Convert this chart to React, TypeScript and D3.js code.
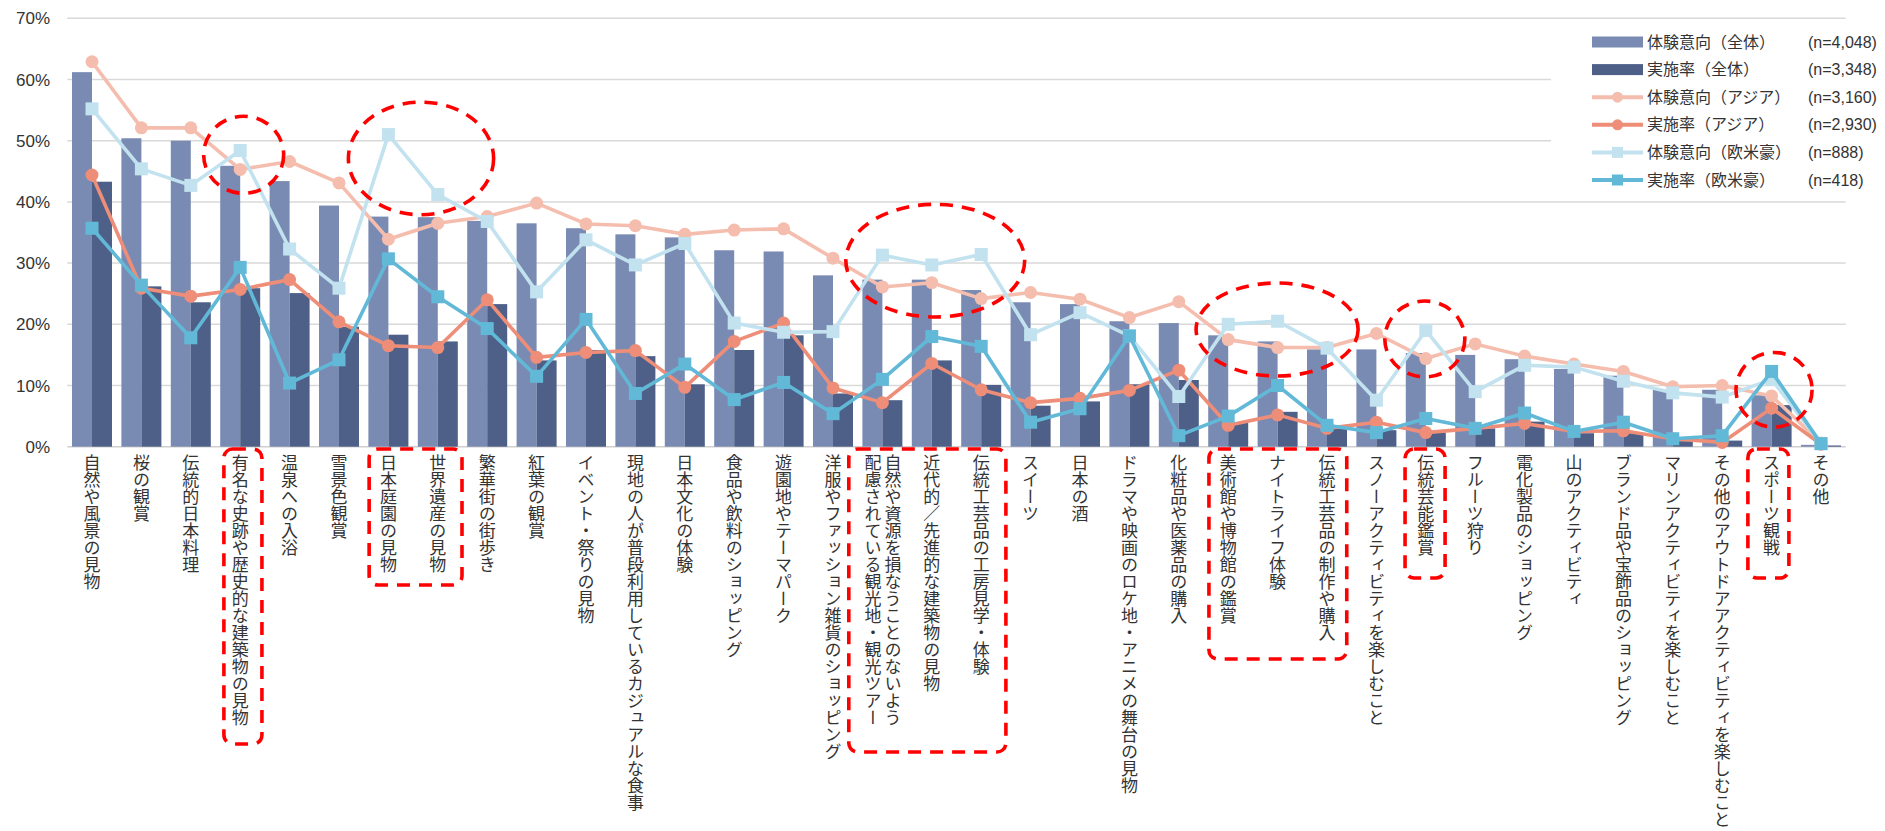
import React from 'react';
import * as d3 from 'd3';

const categories = [
  '自然や風景の見物',
  '桜の観賞',
  '伝統的日本料理',
  '有名な史跡や歴史的な建築物の見物',
  '温泉への入浴',
  '雪景色観賞',
  '日本庭園の見物',
  '世界遺産の見物',
  '繁華街の街歩き',
  '紅葉の観賞',
  'イベント・祭りの見物',
  '現地の人が普段利用しているカジュアルな食事',
  '日本文化の体験',
  '食品や飲料のショッピング',
  '遊園地やテーマパーク',
  '洋服やファッション雑貨のショッピング',
  '自然や資源を損なうことのないよう\n配慮されている観光地・観光ツアー',
  '近代的／先進的な建築物の見物',
  '伝統工芸品の工房見学・体験',
  'スイーツ',
  '日本の酒',
  'ドラマや映画のロケ地・アニメの舞台の見物',
  '化粧品や医薬品の購入',
  '美術館や博物館の鑑賞',
  'ナイトライフ体験',
  '伝統工芸品の制作や購入',
  'スノーアクティビティを楽しむこと',
  '伝統芸能鑑賞',
  'フルーツ狩り',
  '電化製品のショッピング',
  '山のアクティビティ',
  'ブランド品や宝飾品のショッピング',
  'マリンアクティビティを楽しむこと',
  'その他のアウトドアアクティビティを楽しむこと',
  'スポーツ観戦',
  'その他',
];

// 体験意向（全体） bars
const intentAll = [61.2, 50.4, 50.0, 45.9, 43.4, 39.4, 37.6, 37.5, 36.9, 36.5, 35.7, 34.7, 34.2, 32.1, 31.9, 28.0, 27.3, 27.3, 25.6, 23.6, 23.3, 20.5, 20.2, 18.2, 17.2, 15.9, 15.9, 15.3, 15.0, 14.3, 12.7, 11.6, 9.3, 9.3, 8.4, 0.3];
// 実施率（全体） bars
const implAll = [43.3, 26.2, 23.6, 25.9, 25.1, 19.6, 18.3, 17.2, 23.3, 14.1, 15.8, 14.8, 10.2, 15.8, 18.2, 8.7, 7.6, 14.1, 10.1, 6.7, 7.4, 10.2, 10.9, 3.9, 5.7, 3.0, 2.7, 2.3, 3.0, 4.1, 2.2, 2.2, 0.9, 1.0, 6.8, 0.2];
// 体験意向（アジア）
const intentAsia = [62.9, 52.1, 52.1, 45.3, 46.6, 43.1, 33.9, 36.5, 37.6, 39.8, 36.4, 36.1, 34.7, 35.4, 35.6, 30.8, 26.1, 26.8, 24.2, 25.2, 24.1, 21.1, 23.7, 17.5, 16.2, 16.2, 18.5, 14.4, 16.8, 14.8, 13.5, 12.3, 9.8, 10.0, 8.3, 0.6];
// 実施率（アジア）
const implAsia = [44.4, 25.9, 24.6, 25.7, 27.3, 20.4, 16.5, 16.2, 24.0, 14.6, 15.4, 15.7, 9.7, 17.2, 20.2, 9.6, 7.2, 13.6, 9.3, 7.2, 7.9, 9.2, 12.5, 3.5, 5.2, 3.0, 4.0, 2.3, 3.0, 3.8, 2.5, 2.6, 1.3, 0.7, 6.3, 0.4];
// 体験意向（欧米豪）
const intentEU = [55.2, 45.4, 42.7, 48.4, 32.3, 25.9, 51.0, 41.2, 36.8, 25.3, 33.8, 29.7, 33.2, 20.2, 18.7, 18.8, 31.3, 29.7, 31.4, 18.3, 21.9, 18.1, 8.2, 20.0, 20.5, 16.1, 7.6, 19.0, 9.0, 13.3, 13.0, 10.7, 8.8, 8.1, 11.0, 0.5];
// 実施率（欧米豪）
const implEU = [35.7, 26.4, 17.8, 29.3, 10.4, 14.2, 30.7, 24.5, 19.3, 11.5, 20.8, 8.7, 13.5, 7.7, 10.5, 5.4, 11.0, 18.0, 16.4, 4.0, 6.2, 18.1, 1.8, 5.0, 10.0, 3.5, 2.3, 4.6, 3.0, 5.5, 2.5, 4.0, 1.3, 1.8, 12.3, 0.5];

const yTicks = [0, 10, 20, 30, 40, 50, 60, 70];

const legendLabels = ['体験意向（全体）', '実施率（全体）', '体験意向（アジア）', '実施率（アジア）', '体験意向（欧米豪）', '実施率（欧米豪）'];
const legendN = ['(n=4,048)', '(n=3,348)', '(n=3,160)', '(n=2,930)', '(n=888)', '(n=418)'];

// annotation config (category index units / value units)
const ellipseNotes = [
  { c: 3.07, v: 47.7, rc: 0.81, rv: 6.3 },
  { c: 6.66, v: 47.1, rc: 1.47, rv: 9.2 },
  { c: 17.07, v: 30.4, rc: 1.81, rv: 9.2 },
  { c: 23.99, v: 19.15, rc: 1.64, rv: 7.6 },
  { c: 26.98, v: 17.6, rc: 0.81, rv: 6.2 },
  { c: 34.05, v: 9.3, rc: 0.77, rv: 6.1 },
];
const boxNotes = [
  { c0: 2.67, c1: 3.44, chars: 16, pad: 18 },
  { c0: 5.61, c1: 7.49, chars: 7, pad: 12 },
  { c0: 15.32, c1: 18.5, chars: 16, pad: 26 },
  { c0: 22.61, c1: 25.4, chars: 11, pad: 18 },
  { c0: 26.58, c1: 27.39, chars: 6, pad: 22 },
  { c0: 33.52, c1: 34.35, chars: 6, pad: 22 },
];

const W = 1885;
const H = 831;
const JP = '"Noto Sans CJK JP", "Noto Sans", sans-serif';
const LAT = '"Liberation Sans", Arial, sans-serif';

const C_BAR1 = '#7a8bb3';
const C_BAR2 = '#4e6088';
const C_ASIA1 = '#f5bdad';
const C_ASIA2 = '#ee8d78';
const C_EU1 = '#c1e2ee';
const C_EU2 = '#62b9d7';
const RED = '#ff0000';

export default function App() {
  const left = 67.3;
  const right = 1845.7;
  const x = d3.scaleBand<string>().domain(categories).range([left, right]).paddingInner(0).paddingOuter(0);
  const step = x.step();
  const sub = d3.scaleBand<string>().domain(['all', 'impl']).range([0, step]).paddingInner(0).paddingOuter(0.235);
  const y = d3.scaleLinear().domain([0, 70]).range([446.7, 18.3]);
  const cxAt = (i: number) => (x(categories[i]) as number) + step / 2;
  const cxFrac = (c: number) => left + step * (c + 0.5);

  const lineGen = d3
    .line<number>()
    .x((_, i) => cxAt(i))
    .y((d) => y(d));

  const lineSeries = [
    { data: intentAsia, color: C_ASIA1, marker: 'circle' },
    { data: implAsia, color: C_ASIA2, marker: 'circle' },
    { data: intentEU, color: C_EU1, marker: 'square' },
    { data: implEU, color: C_EU2, marker: 'square' },
  ];

  const labelTop = 454;
  const fs = 17;
  const legendX0 = 1592;
  const legendX1 = 1643;
  const legendY0 = 42;
  const legendDY = 27.6;
  const legendSeries = [
    { type: 'bar', color: C_BAR1 },
    { type: 'bar', color: C_BAR2 },
    { type: 'circle', color: C_ASIA1 },
    { type: 'circle', color: C_ASIA2 },
    { type: 'square', color: C_EU1 },
    { type: 'square', color: C_EU2 },
  ];

  return (
    <svg
      width={W}
      height={H}
      viewBox={`0 0 ${W} ${H}`}
      style={{ position: 'absolute', left: 0, top: 0, background: '#fff' }}
    >
      <rect x={0} y={0} width={W} height={H} fill="#fff" />
      {/* gridlines */}
      {yTicks.map((t) => (
        <line
          key={'g' + t}
          x1={left}
          x2={right}
          y1={y(t)}
          y2={y(t)}
          stroke={t === 0 ? '#cfcfcf' : '#d9d9d9'}
          strokeWidth={1.5}
        />
      ))}
      {/* y tick labels */}
      {yTicks.map((t) => (
        <text
          key={'t' + t}
          x={50}
          y={y(t)}
          dy="0.36em"
          textAnchor="end"
          fontFamily={LAT}
          fontSize={17}
          fill="#333"
        >
          {d3.format('.0%')(t / 100)}
        </text>
      ))}
      {/* legend background */}
      <rect x={1551} y={28} width={W - 1551} height={167} fill="#fff" />
      {/* bars */}
      {categories.map((c, i) => (
        <g key={'b' + i}>
          <rect
            x={(x(c) as number) + (sub('all') as number)}
            y={y(intentAll[i])}
            width={sub.bandwidth()}
            height={y(0) - y(intentAll[i])}
            fill={C_BAR1}
          />
          <rect
            x={(x(c) as number) + (sub('impl') as number)}
            y={y(implAll[i])}
            width={sub.bandwidth()}
            height={y(0) - y(implAll[i])}
            fill={C_BAR2}
          />
        </g>
      ))}
      {/* lines */}
      {lineSeries.map((s, si) => (
        <g key={'l' + si}>
          <path d={lineGen(s.data) as string} fill="none" stroke={s.color} strokeWidth={3.6} strokeLinejoin="round" />
          {s.data.map((v, i) =>
            s.marker === 'circle' ? (
              <circle key={i} cx={cxAt(i)} cy={y(v)} r={6.5} fill={s.color} />
            ) : (
              <rect key={i} x={cxAt(i) - 6.5} y={y(v) - 6.5} width={13} height={13} fill={s.color} />
            )
          )}
        </g>
      ))}
      {/* category labels (vertical) */}
      {categories.map((c, i) => {
        const cols = c.split('\n');
        const n = cols.length;
        return cols.map((col, k) => (
          <text
            key={'c' + i + '-' + k}
            x={cxAt(i) + ((n - 1) / 2 - k) * 20 + (n > 1 ? 0.6 : 0)}
            y={labelTop}
            fontFamily={JP}
            fontSize={fs}
            fill="#333"
            style={{ writingMode: 'vertical-rl' as any }}
          >
            {col}
          </text>
        ));
      })}
      {/* annotations: ellipses */}
      {ellipseNotes.map((e, i) => (
        <ellipse
          key={'e' + i}
          cx={cxFrac(e.c)}
          cy={y(e.v)}
          rx={e.rc * step}
          ry={y(0) - y(e.rv)}
          fill="none"
          stroke={RED}
          strokeWidth={3.6}
          strokeDasharray="13 9"
        />
      ))}
      {/* annotations: rounded boxes around labels */}
      {boxNotes.map((b, i) => {
        const x0 = cxFrac(b.c0);
        const x1 = cxFrac(b.c1);
        const top = 449;
        const bottom = labelTop + b.chars * fs + b.pad;
        return (
          <rect
            key={'bx' + i}
            x={x0}
            y={top}
            width={x1 - x0}
            height={bottom - top}
            rx={9}
            ry={9}
            fill="none"
            stroke={RED}
            strokeWidth={3.6}
            strokeDasharray="13 9"
          />
        );
      })}
      {/* legend */}
      {legendSeries.map((s, i) => {
        const ly = legendY0 + i * legendDY;
        const mx = (legendX0 + legendX1) / 2;
        return (
          <g key={'lg' + i}>
            {s.type === 'bar' ? (
              <rect x={legendX0} y={ly - 5.5} width={legendX1 - legendX0} height={11} fill={s.color} />
            ) : (
              <g>
                <line x1={legendX0} x2={legendX1} y1={ly} y2={ly} stroke={s.color} strokeWidth={4} />
                {s.type === 'circle' ? (
                  <circle cx={mx} cy={ly} r={5.5} fill={s.color} />
                ) : (
                  <rect x={mx - 5.5} y={ly - 5.5} width={11} height={11} fill={s.color} />
                )}
              </g>
            )}
            <text x={legendX1 + 4} y={ly} dy="0.35em" fontFamily={JP} fontSize={16} fill="#333">
              {legendLabels[i]}
            </text>
            <text x={1808} y={ly} dy="0.35em" fontFamily={LAT} fontSize={16} fill="#333">
              {legendN[i]}
            </text>
          </g>
        );
      })}
    </svg>
  );
}
